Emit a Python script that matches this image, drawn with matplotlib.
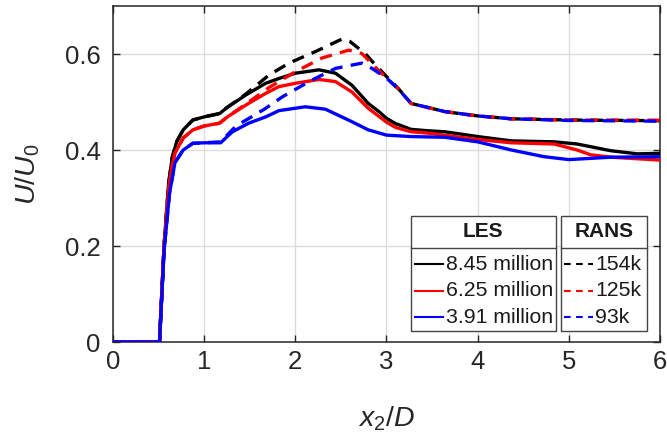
import matplotlib

matplotlib.use("Agg")
import matplotlib.pyplot as plt
from matplotlib.lines import Line2D
from matplotlib.patches import Rectangle

plt.rcParams["font.family"] = ["Liberation Sans", "DejaVu Sans"]
plt.rcParams["mathtext.fontset"] = "custom"
plt.rcParams["mathtext.it"] = "Liberation Sans:italic"
plt.rcParams["mathtext.rm"] = "Liberation Sans"

# LES velocity profiles along x2/D (three mesh sizes)
les_x_845 = [0.0, 0.51, 0.56, 0.61, 0.65, 0.70, 0.77, 0.876, 1.0, 1.1, 1.17,
             1.255, 1.46, 1.675, 1.82, 2.0, 2.26, 2.44, 2.62, 2.80, 2.91, 3.0,
             3.1, 3.27, 3.46, 3.64, 4.0, 4.37, 4.84, 5.09, 5.46, 5.75, 6.0]
les_u_845 = [0.0, 0.0, 0.20, 0.33, 0.385, 0.418, 0.442, 0.4625, 0.469, 0.473,
             0.476, 0.489, 0.515, 0.539, 0.549, 0.560, 0.567, 0.560, 0.535,
             0.497, 0.481, 0.466, 0.455, 0.443, 0.440, 0.438, 0.428, 0.419,
             0.417, 0.4125, 0.3985, 0.392, 0.393]

les_x_625 = [0.0, 0.51, 0.56, 0.61, 0.65, 0.68, 0.77, 0.876, 1.0, 1.17, 1.255,
             1.46, 1.675, 1.82, 2.0, 2.26, 2.44, 2.62, 2.80, 3.0, 3.1, 3.27,
             3.46, 4.0, 4.37, 4.84, 5.09, 5.24, 5.46, 6.0]
les_u_625 = [0.0, 0.0, 0.20, 0.32, 0.37, 0.394, 0.425, 0.442, 0.450, 0.456,
             0.469, 0.494, 0.518, 0.532, 0.539, 0.547, 0.5425, 0.521, 0.487,
             0.458, 0.447, 0.438, 0.435, 0.422, 0.415, 0.4125, 0.400, 0.390,
             0.385, 0.379]

les_x_391 = [0.0, 0.51, 0.56, 0.62, 0.68, 0.77, 0.876, 1.0, 1.18, 1.31, 1.49,
             1.675, 1.82, 2.0, 2.11, 2.33, 2.62, 2.80, 3.0, 3.27, 3.64, 4.0,
             4.37, 4.73, 5.0, 5.46, 6.0]
les_u_391 = [0.0, 0.0, 0.19, 0.31, 0.374, 0.400, 0.414, 0.415, 0.415, 0.438,
             0.456, 0.469, 0.482, 0.487, 0.490, 0.485, 0.459, 0.442, 0.431,
             0.428, 0.4265, 0.417, 0.400, 0.386, 0.380, 0.385, 0.386]

# RANS velocity profiles (three mesh sizes)
rans_x_154 = [0.0, 0.51, 0.56, 0.61, 0.65, 0.70, 0.77, 0.876, 1.0, 1.17, 1.255,
              1.46, 1.71, 1.93, 2.22, 2.51, 2.60, 2.77, 2.87, 3.0, 3.13, 3.27,
              3.64, 4.0, 4.37, 5.0, 6.0]
rans_u_154 = [0.0, 0.0, 0.20, 0.33, 0.385, 0.418, 0.442, 0.4625, 0.469, 0.476,
              0.489, 0.517, 0.556, 0.581, 0.605, 0.631, 0.626, 0.600, 0.579,
              0.553, 0.528, 0.497, 0.480, 0.471, 0.465, 0.4625, 0.461]

rans_x_125 = [0.0, 0.51, 0.56, 0.61, 0.65, 0.68, 0.77, 0.876, 1.0, 1.17, 1.255,
              1.46, 1.71, 2.0, 2.29, 2.585, 2.73, 2.87, 3.0, 3.13, 3.27, 3.64,
              4.0, 4.37, 5.0, 6.0]
rans_u_125 = [0.0, 0.0, 0.20, 0.32, 0.37, 0.394, 0.425, 0.442, 0.450, 0.456,
              0.469, 0.496, 0.530, 0.563, 0.5915, 0.608, 0.601, 0.574, 0.550,
              0.527, 0.497, 0.480, 0.471, 0.465, 0.4625, 0.462]

rans_x_93 = [0.0, 0.51, 0.56, 0.62, 0.68, 0.77, 0.876, 1.0, 1.18, 1.35, 1.66,
             1.86, 2.15, 2.44, 2.73, 2.84, 3.0, 3.13, 3.27, 3.64, 4.0, 4.37,
             5.0, 6.0]
rans_u_93 = [0.0, 0.0, 0.19, 0.31, 0.374, 0.400, 0.414, 0.415, 0.417, 0.450,
             0.485, 0.511, 0.5425, 0.570, 0.581, 0.570, 0.550, 0.527, 0.497,
             0.480, 0.471, 0.465, 0.4615, 0.460]

les_labels = ["8.45 million", "6.25 million", "3.91 million"]
rans_labels = ["154k", "125k", "93k"]
colors = ["#000000", "#ff0000", "#0000ff"]

x_ticks = [0, 1, 2, 3, 4, 5, 6]
y_ticks = [0, 0.2, 0.4, 0.6]

LW = 2.4
DASH = (0, (3.7, 2.5))

fig = plt.figure(figsize=(6.67, 4.42), dpi=100)
ax = fig.add_axes([113 / 667, 100 / 442, 547 / 667, 336 / 442])

les = [(les_x_845, les_u_845), (les_x_625, les_u_625), (les_x_391, les_u_391)]
rans = [(rans_x_154, rans_u_154), (rans_x_125, rans_u_125),
        (rans_x_93, rans_u_93)]
for (xs, us), c in zip(les, colors):
    ax.plot(xs, us, color=c, lw=LW, solid_capstyle="butt", zorder=3)
for (xs, us), c in zip(rans, colors):
    ax.plot(xs, us, color=c, lw=LW, ls=DASH, dash_capstyle="butt", zorder=3)

ax.set_xlim(0, 6)
ax.set_ylim(0, 0.7)
ax.set_xticks(x_ticks)
ax.set_yticks(y_ticks)
ax.set_yticklabels([f"{v:g}" for v in y_ticks])
ax.grid(True, color="#dcdcdc", lw=1.0)
ax.set_axisbelow(True)
ax.tick_params(direction="in", length=5, width=1.0, labelsize=18.5,
               top=True, right=True, colors="#262626")
ax.tick_params(axis="y", pad=9)
ax.tick_params(axis="x", pad=6)
for s in ax.spines.values():
    s.set_color("#262626")
    s.set_linewidth(1.1)

ax.set_xlabel(r"$x_2$/$D$", fontsize=20.5, color="#262626")
ax.set_ylabel(r"$U$/$U_0$", fontsize=20.5, color="#262626")
ax.xaxis.set_label_coords(0.5, -0.185)
ax.yaxis.set_label_coords(-0.13, 0.5)

# two-box legend (LES | RANS) drawn in axes coordinates
tr = ax.transAxes
box_kw = dict(fill=True, facecolor="white", edgecolor="#444444", lw=1.0,
              transform=tr, zorder=5)
y_bot, y_sep, y_top = 0.033, 0.280, 0.375
row_y = [0.232, 0.152, 0.074]
for x0, x1, head in [(0.5445, 0.8094, "LES"), (0.8185, 0.9764, "RANS")]:
    ax.add_patch(Rectangle((x0, y_bot), x1 - x0, y_top - y_bot, **box_kw))
    ax.add_line(Line2D([x0, x1], [y_sep, y_sep], color="#444444", lw=1.0,
                       transform=tr, zorder=6))
    ax.text((x0 + x1) / 2, (y_sep + y_top) / 2, head, transform=tr,
            ha="center", va="center", fontsize=15, fontweight="bold",
            color="#1a1a1a", zorder=7)
for yr, c, lab in zip(row_y, colors, les_labels):
    ax.add_line(Line2D([0.5517, 0.6025], [yr, yr], color=c, lw=1.5,
                       transform=tr, zorder=7))
    ax.text(0.608, yr, lab, transform=tr, ha="left", va="center",
            fontsize=15.3, color="#1a1a1a", zorder=7)
for yr, c, lab in zip(row_y, colors, rans_labels):
    ax.add_line(Line2D([0.824, 0.878], [yr, yr], color=c, lw=1.5,
                       ls=(0, (3.2, 2.6)), transform=tr, zorder=7))
    ax.text(0.882, yr, lab, transform=tr, ha="left", va="center",
            fontsize=15.3, color="#1a1a1a", zorder=7)

fig.savefig("out.png", dpi=100)
